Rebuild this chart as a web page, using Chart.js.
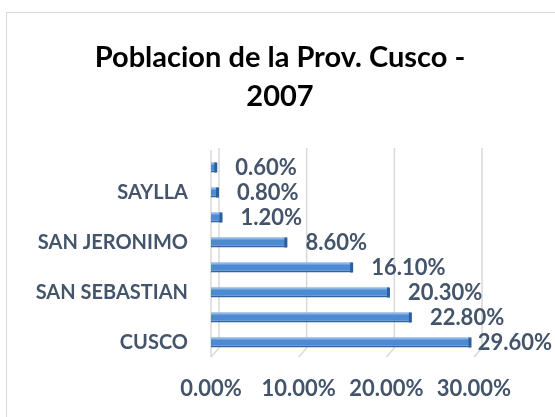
<!DOCTYPE html>
<html>
<head>
<meta charset="utf-8">
<script src="https://cdn.jsdelivr.net/npm/chart.js@4"></script>
<style>
html,body{margin:0;padding:0;background:#fff;overflow:hidden;}
#wrap{position:relative;width:555px;height:417px;}
canvas{display:block;}
#frame{position:absolute;left:6px;top:12px;width:600px;height:500px;border:1.5px solid #d9d9d9;box-sizing:border-box;pointer-events:none;}
</style>
</head>
<body>
<div id="wrap">
<canvas id="c" width="555" height="417"></canvas>
<div id="frame"></div>
</div>
<script>
const titleLines = ['Poblacion de la Prov. Cusco -', '2007'];
const districts = ['CUSCO','SANTIAGO','SAN SEBASTIAN','WANCHAQ','SAN JERONIMO','POROY','SAYLLA','CCORCA'];
const shares = [29.6, 22.8, 20.3, 16.1, 8.6, 1.2, 0.8, 0.6];
const xTicks = [0, 10, 20, 30];

const FONT = 'Lato, "Open Sans", sans-serif';
const TEXT = '#44546A';
const GRID = '#d9d9d9';
const DX = 8, DY = -7;   // depth of the 3D walls

const titlePlugin = {
  id: 'centerTitle',
  afterDraw(chart) {
    const ctx = chart.ctx;
    ctx.save();
    ctx.font = 'bold 29px ' + FONT;
    ctx.fillStyle = '#000000';
    ctx.textAlign = 'center';
    ctx.textBaseline = 'middle';
    titleLines.forEach((t, i) => ctx.fillText(t, 280, 58 + i * 39));
    ctx.restore();
  }
};

const wallPlugin = {
  id: 'walls',
  beforeDatasetsDraw(chart) {
    const ctx = chart.ctx;
    const xs = chart.scales.x;
    const area = chart.chartArea;
    ctx.save();
    ctx.strokeStyle = GRID;
    ctx.lineWidth = 1.5;
    // left wall front edge
    const x0 = xs.getPixelForValue(xTicks[0]);
    ctx.beginPath();
    ctx.moveTo(x0, area.top + DY + 2);
    ctx.lineTo(x0, area.bottom + 2);
    ctx.stroke();
    xTicks.forEach(v => {
      const x = xs.getPixelForValue(v);
      ctx.beginPath();
      ctx.moveTo(x + DX, area.top + DY);
      ctx.lineTo(x + DX, area.bottom + DY);
      ctx.lineTo(x, area.bottom + 2);
      ctx.stroke();
    });
    ctx.restore();
  }
};

const labelPlugin = {
  id: 'valueLabels',
  afterDatasetsDraw(chart) {
    const ctx = chart.ctx;
    const meta = chart.getDatasetMeta(0);
    ctx.save();
    meta.data.forEach((bar, i) => {
      const h = bar.height;
      const top = bar.y - h / 2;
      // top face of the bar
      ctx.fillStyle = '#8DB6E6';
      ctx.fillRect(bar.base, top, bar.x - bar.base, 2);
      // end cap
      ctx.fillStyle = '#2C5E9C';
      ctx.fillRect(bar.x - 2, top, 3, h);
    });
    ctx.font = 'bold 22px ' + FONT;
    ctx.textAlign = 'left';
    ctx.textBaseline = 'middle';
    ctx.fillStyle = TEXT;
    meta.data.forEach((bar, i) => {
      const txt = shares[i].toFixed(2) + '%';
      const w = ctx.measureText(txt).width;
      const x = Math.min(bar.x + 19, chart.width - w - 3);
      ctx.fillText(txt, x, bar.y);
    });
    ctx.restore();
  }
};

new Chart(document.getElementById('c'), {
  type: 'bar',
  data: {
    labels: districts,
    datasets: [{
      data: shares,
      backgroundColor: '#4E8AD4',
      borderColor: '#2F64A3',
      borderWidth: {top: 0, right: 0, bottom: 2, left: 0},
      borderSkipped: false,
      barPercentage: 0.4,
      categoryPercentage: 1.0
    }]
  },
  plugins: [wallPlugin, labelPlugin, titlePlugin],
  options: {
    indexAxis: 'y',
    responsive: false,
    animation: false,
    events: [],
    layout: {padding: {left: 0, right: 81, top: 155, bottom: 0}},
    plugins: {
      legend: {display: false},
      tooltip: {enabled: false},
      title: {display: false}
    },
    scales: {
      x: {
        min: 0, max: 30,
        afterBuildTicks(scale) { scale.ticks = xTicks.map(v => ({value: v})); },
        afterFit(scale) { scale.height = 62; },
        ticks: {
          padding: 21,
          color: TEXT,
          maxRotation: 0,
          font: {family: FONT, size: 22, weight: 'bold'},
          callback: v => v.toFixed(2) + '%'
        },
        grid: {display: false, drawTicks: false},
        border: {display: false}
      },
      y: {
        reverse: true,
        afterFit(scale) { scale.width = 211; },
        ticks: {
          padding: 23,
          color: TEXT,
          autoSkip: false,
          font: {family: FONT, size: 20, weight: 'bold'},
          callback: function(v, i) { return i % 2 === 0 ? districts[i] : ''; }
        },
        grid: {display: false, drawTicks: false},
        border: {display: false}
      }
    }
  }
});
</script>
</body>
</html>
